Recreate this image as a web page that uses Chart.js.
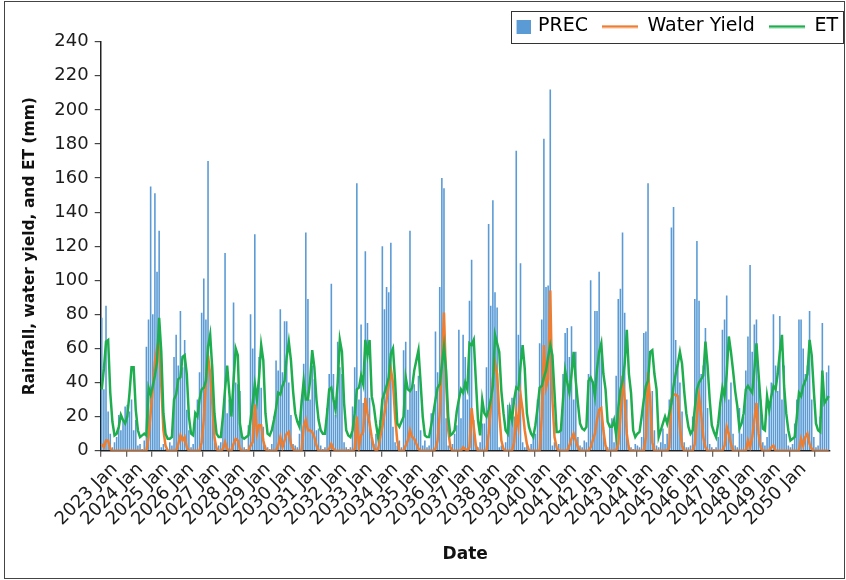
<!DOCTYPE html>
<html>
<head>
<meta charset="utf-8">
<script src="https://cdn.jsdelivr.net/npm/chart.js@4.4.1/dist/chart.umd.min.js"></script>
<style>
  html, body { margin: 0; padding: 0; background: #fff; }
</style>
</head>
<body>
<canvas id="chart" width="846" height="580"></canvas>
<script>
// monthly series, Jan 2023 onwards
const firstYear = 2023;
const lastLabelYear = 2050;
const monthNames = ['Jan', 'Feb', 'Mar', 'Apr', 'May', 'Jun', 'Jul', 'Aug', 'Sep', 'Oct', 'Nov', 'Dec'];
const yTicks = [0, 20, 40, 60, 80, 100, 120, 140, 160, 180, 200, 220, 240];

const prec = [
  78, 36, 85, 23, 10, 2, 5, 8, 21, 12, 18, 26,        // 2023
  27, 23, 30, 12, 18, 3, 4, 1, 6, 61, 77, 155,        // 2024
  80, 151, 105, 129, 2, 4, 1, 0, 5, 3, 55, 68,        // 2025
  50, 82, 49, 65, 24, 12, 2, 4, 20, 30, 46, 81,       // 2026
  101, 77, 170, 45, 51, 8, 2, 3, 5, 22, 116, 22,      // 2027
  30, 20, 87, 40, 39, 35, 8, 2, 1, 15, 80, 60,        // 2028
  127, 30, 55, 37, 14, 3, 2, 1, 4, 20, 53, 47,        // 2029
  83, 46, 76, 76, 40, 21, 4, 3, 2, 10, 30, 51,        // 2030
  128, 89, 30, 50, 42, 12, 13, 3, 1, 2, 25, 45,       // 2031
  98, 45, 21, 64, 49, 45, 5, 2, 1, 2, 26, 49,         // 2032
  157, 30, 74, 28, 117, 75, 31, 8, 4, 10, 2, 18,      // 2033
  120, 83, 96, 93, 122, 14, 5, 3, 6, 2, 59, 64,       // 2034
  24, 129, 38, 39, 35, 44, 12, 3, 6, 2, 3, 22,        // 2035
  20, 70, 46, 96, 160, 154, 19, 3, 2, 4, 10, 15,      // 2036
  71, 19, 68, 55, 30, 88, 112, 18, 3, 2, 5, 16,       // 2037
  16, 49, 133, 85, 147, 93, 84, 2, 3, 1, 5, 27,       // 2038
  27, 31, 20, 176, 68, 110, 5, 2, 3, 1, 4, 8,         // 2039
  10, 30, 63, 77, 183, 96, 97, 212, 3, 5, 2, 4,       // 2040
  12, 45, 69, 72, 55, 73, 30, 58, 8, 3, 2, 6,         // 2041
  5, 45, 100, 41, 82, 82, 105, 63, 14, 3, 2, 16,      // 2042
  19, 5, 44, 89, 95, 128, 81, 30, 3, 2, 1, 4,         // 2043
  3, 2, 8, 69, 70, 157, 30, 35, 12, 3, 2, 5,          // 2044
  13, 4, 10, 30, 131, 143, 65, 51, 40, 23, 5, 2,      // 2045
  2, 3, 20, 89, 123, 88, 45, 50, 72, 25, 4, 2,        // 2046
  1, 2, 8, 25, 71, 77, 91, 30, 40, 10, 3, 2,          // 2047
  25, 10, 20, 47, 67, 109, 58, 74, 77, 44, 30, 5,     // 2048
  3, 8, 25, 40, 80, 50, 35, 79, 30, 50, 10, 3,        // 2049
  2, 4, 16, 30, 77, 77, 60, 45, 50, 82, 30, 8,        // 2050
  2, 3, 20, 75, 30, 46, 50                            // 2051
];

const waterYield = [
  4, 2, 6, 6, 1, 0, 0, 0, 0, 0, 0, 0,
  0, 0, 0, 0, 0, 0, 0, 0, 0, 0, 8, 22,
  37, 52, 60, 66, 38, 12, 3, 0, 0, 0, 0, 0,
  4, 9, 6, 8, 2, 0, 0, 0, 0, 0, 0, 5,
  18, 40, 56, 45, 28, 8, 1, 0, 0, 1, 5, 1,
  0, 0, 4, 7, 6, 1, 0, 0, 0, 0, 3, 5,
  27, 10, 15, 15, 6, 1, 0, 0, 0, 0, 0, 3,
  8, 2, 6, 10, 11, 4, 1, 0, 0, 0, 0, 14,
  18, 12, 12, 11, 8, 3, 0, 0, 0, 0, 0, 1,
  4, 1, 0, 0, 0, 0, 0, 0, 0, 0, 0, 1,
  20, 2, 9, 11, 31, 22, 16, 8, 2, 0, 1, 8,
  14, 22, 30, 38, 48, 40, 20, 6, 0, 0, 0, 3,
  6, 12, 8, 7, 4, 1, 0, 0, 0, 0, 0, 0,
  0, 1, 6, 22, 51, 81, 40, 12, 2, 0, 0, 0,
  0, 0, 2, 1, 0, 2, 25, 14, 3, 0, 0, 0,
  0, 0, 10, 25, 42, 52, 45, 22, 6, 1, 0, 0,
  0, 0, 5, 22, 14, 33, 24, 12, 4, 0, 0, 0,
  0, 0, 0, 20, 62, 37, 42, 94, 30, 8, 2, 0,
  0, 0, 0, 0, 3, 7, 10, 6, 2, 0, 0, 0,
  0, 0, 2, 6, 10, 18, 24, 25, 12, 3, 0, 0,
  0, 0, 0, 4, 20, 44, 30, 10, 1, 0, 0, 0,
  0, 0, 0, 0, 8, 46, 30, 5, 0, 0, 0, 0,
  0, 0, 0, 2, 30, 33, 33, 32, 14, 3, 0, 0,
  0, 0, 0, 4, 20, 32, 22, 8, 2, 0, 0, 0,
  0, 0, 0, 0, 0, 3, 14, 10, 4, 0, 0, 0,
  0, 0, 0, 0, 6, 2, 8, 18, 28, 10, 2, 0,
  0, 0, 0, 2, 3, 0, 0, 0, 0, 0, 0, 0,
  0, 0, 0, 0, 0, 7, 3, 8, 10, 4, 1, 0,
  0, 0, 0, 0, 0, 0, 0
];

const et = [
  36, 48, 64, 65, 34, 17, 9, 10, 14, 21, 18, 16,
  20, 33, 49, 49, 24, 12, 8, 9, 10, 9, 37, 33,
  38, 44, 52, 78, 58, 22, 10, 7, 7, 8, 30, 33,
  42, 43, 55, 56, 45, 20, 10, 9, 22, 20, 30, 36,
  37, 41, 61, 68, 48, 22, 10, 8, 8, 20, 36, 50,
  34, 20, 41, 60, 56, 16, 8, 7, 8, 9, 18, 28,
  39, 30, 43, 62, 53, 22, 10, 9, 12, 18, 25, 34,
  33, 38, 41, 55, 64, 53, 35, 22, 17, 14, 28, 41,
  30, 30, 41, 59, 49, 30, 18, 12, 10, 10, 22, 36,
  37, 30, 24, 40, 65, 58, 28, 12, 9, 8, 12, 22,
  36, 37, 44, 39, 65, 56, 65, 32, 26, 16, 8, 15,
  30, 34, 38, 43, 57, 60, 41, 16, 14, 17, 20, 43,
  36, 35, 37, 47, 53, 59, 40, 20, 9, 8, 8, 15,
  22, 30, 37, 39, 50, 61, 47, 20, 9, 10, 12, 23,
  30, 36, 34, 40, 36, 63, 62, 65, 41, 18, 9, 30,
  22, 20, 24, 30, 38, 68, 63, 58, 35, 22, 12, 10,
  24, 18, 30, 37, 36, 50, 62, 48, 22, 14, 10, 8,
  15, 25, 37, 38, 43, 47, 55, 62, 56, 34, 11, 11,
  12, 30, 47, 40, 34, 45, 58, 41, 28, 16, 13, 12,
  14, 41, 43, 40, 32, 48, 58, 63, 45, 36, 17, 14,
  14, 18, 9, 25, 36, 41, 51, 71, 45, 34, 12, 8,
  10, 11, 20, 30, 38, 41, 58, 59, 45, 36, 8, 12,
  16, 20, 16, 22, 28, 38, 45, 51, 58, 51, 35, 22,
  14, 10, 12, 25, 36, 40, 42, 44, 64, 50, 30, 15,
  11, 8, 16, 28, 37, 32, 45, 67, 58, 47, 35, 26,
  13, 16, 22, 36, 38, 36, 34, 47, 63, 45, 28, 13,
  12, 32, 24, 32, 38, 36, 45, 58, 68, 38, 22, 12,
  6, 7, 8, 20, 34, 32, 38, 41, 45, 65, 56, 35,
  16, 12, 11, 47, 28, 30, 32
];

const months = prec.map((v, i) => (firstYear + Math.floor(i / 12)) + ' ' + monthNames[i % 12]);

const blue = '#5B9BD5';
const orange = '#ED7D31';
const green = '#1FAE4F';
const ink = '#1c1c1c';

Chart.defaults.font.family = "'DejaVu Sans', sans-serif";
Chart.defaults.color = ink;

function legendIcon(kind, color) {
  const c = document.createElement('canvas');
  if (kind === 'box') {
    c.width = 40; c.height = 14;
    const g = c.getContext('2d');
    g.fillStyle = color;
    g.fillRect(26, 0, 14, 14);
  } else {
    c.width = 36; c.height = 4;
    const g = c.getContext('2d');
    g.fillStyle = color;
    g.fillRect(0, 0.75, 36, 2.5);
  }
  return c;
}
const icons = [legendIcon('box', blue), legendIcon('line', orange), legendIcon('line', green)];

// fixed legend height + frame around it and around the page
const frames = {
  id: 'frames',
  beforeLayout(chart) {
    const lg = chart.legend;
    if (lg && !lg._fixedFit) {
      const fit = lg.fit;
      lg.fit = function () { fit.call(this); this.height = 38.7; };
      lg._fixedFit = true;
    }
  },
  afterDraw(chart) {
    const ctx = chart.ctx;
    const hb = chart.legend.legendHitBoxes;
    ctx.save();
    ctx.strokeStyle = '#333';
    ctx.lineWidth = 1;
    if (hb && hb.length) {
      const first = hb[0], last = hb[hb.length - 1];
      const l = Math.round(first.left + 26 - 8) + 0.5;
      const r = Math.round(last.left + last.width + 5) + 0.5;
      const t = Math.round(first.top - 6) + 0.5;
      const b = Math.round(first.top + first.height + 7) + 0.5;
      ctx.strokeRect(l, t, r - l, b - t);
    }
    ctx.strokeStyle = '#444';
    ctx.strokeRect(4.5, 1.5, 840, 577);
    ctx.restore();
  }
};

new Chart(document.getElementById('chart'), {
  type: 'bar',
  data: {
    labels: months,
    datasets: [{
      label: 'PREC',
      data: prec,
      backgroundColor: blue,
      barPercentage: 0.75,
      categoryPercentage: 1.0,
      order: 2
    }, {
      type: 'line',
      label: 'Water Yield',
      data: waterYield,
      borderColor: orange,
      backgroundColor: orange,
      borderWidth: 2.5,
      pointRadius: 0,
      tension: 0,
      fill: false,
      order: 1
    }, {
      type: 'line',
      label: 'ET',
      data: et,
      borderColor: green,
      backgroundColor: green,
      borderWidth: 2.5,
      pointRadius: 0,
      tension: 0,
      fill: false,
      order: 0
    }]
  },
  options: {
    responsive: false,
    animation: false,
    events: [],
    layout: { padding: { left: 0, right: -6, top: 3, bottom: 0 } },
    plugins: {
      tooltip: { enabled: false },
      legend: {
        position: 'top',
        align: 'end',
        labels: {
          usePointStyle: true,
          pointStyleWidth: 36,
          padding: 14,
          color: '#222',
          font: { size: 19 },
          generateLabels: (chart) => chart.data.datasets.map((ds, i) => ({
            text: ds.label,
            pointStyle: icons[i],
            fillStyle: ds.backgroundColor,
            strokeStyle: ds.backgroundColor,
            lineWidth: 0,
            hidden: false,
            datasetIndex: i
          }))
        }
      }
    },
    scales: {
      x: {
        grid: {
          display: true,
          drawOnChartArea: false,
          drawTicks: true,
          tickLength: 6,
          lineWidth: 1.3,
          color: (c) => (c.index % 12 === 0 ? '#666' : 'rgba(0,0,0,0)')
        },
        border: { display: true, color: '#222', width: 1.5 },
        ticks: {
          autoSkip: false,
          minRotation: 45,
          maxRotation: 45,
          labelOffset: 13,
          padding: 2,
          color: ink,
          font: { size: 18 },
          callback: function (value, index) {
            if (index % 12 !== 0) return '';
            const year = firstYear + index / 12;
            return year <= lastLabelYear ? this.getLabelForValue(value) : '';
          }
        },
        title: {
          display: true,
          text: 'Date',
          color: '#111',
          font: { size: 17, weight: 'bold' },
          padding: { top: 0, bottom: 14.8 }
        },
        afterFit: (s) => { s.height = 129.3; }
      },
      y: {
        min: 0,
        max: 240,
        afterBuildTicks: (s) => { s.ticks = yTicks.map(v => ({ value: v })); },
        grid: { display: true, drawOnChartArea: false, tickLength: 6, color: '#444', lineWidth: 1.2 },
        border: { display: true, color: '#222', width: 1.5 },
        ticks: { padding: 6, color: ink, font: { size: 18 } },
        title: {
          display: true,
          text: 'Rainfall, water yield, and ET (mm)',
          color: '#111',
          font: { size: 15.5, weight: 'bold' },
          padding: { top: 20.7, bottom: 0 }
        },
        afterFit: (s) => { s.width = 100.7; }
      },
      yPad: {
        position: 'right',
        display: true,
        grid: { display: false },
        border: { display: false },
        ticks: { display: false },
        afterFit: (s) => { s.width = 13.2; }
      }
    }
  },
  plugins: [frames]
});
</script>
</body>
</html>
